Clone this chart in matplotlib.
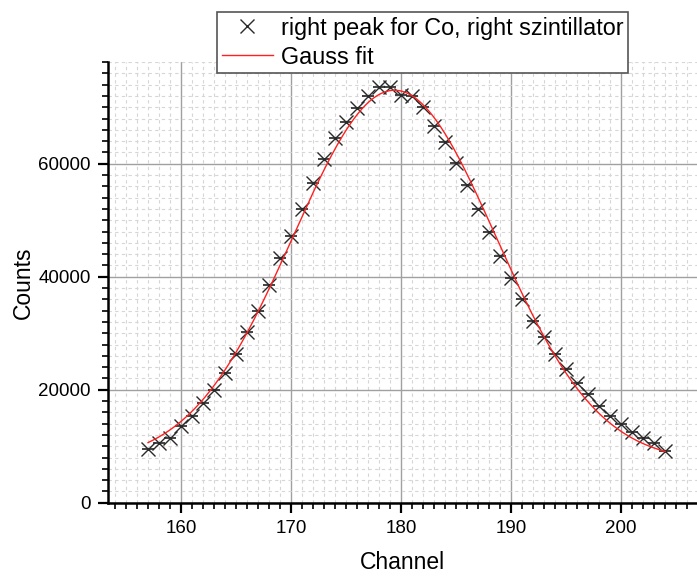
import numpy as np
import matplotlib
matplotlib.use("Agg")
import matplotlib.pyplot as plt
from matplotlib.ticker import MultipleLocator

plt.rcParams['font.family'] = ['Liberation Sans', 'DejaVu Sans']

channels = [157, 158, 159, 160, 161, 162, 163, 164, 165, 166, 167, 168, 169, 170,
            171, 172, 173, 174, 175, 176, 177, 178, 179, 180, 181, 182, 183, 184,
            185, 186, 187, 188, 189, 190, 191, 192, 193, 194, 195, 196, 197, 198,
            199, 200, 201, 202, 203, 204]
counts = [9500, 10500, 11500, 13500, 15400, 17600, 20000, 23000, 26400, 30300,
          34000, 38500, 43300, 47200, 51900, 56600, 60800, 64500, 67400, 69900,
          72000, 73500, 73500, 72200, 71900, 70000, 66700, 63900, 60200, 56300,
          51900, 47900, 43600, 39800, 36100, 32200, 29300, 26400, 23700, 21200,
          19200, 17200, 15400, 13900, 12500, 11500, 10500, 9200]

# Gauss fit parameters (y0 + A*exp(-(x-xc)^2/(2 w^2)))
fit_y0 = 7200
fit_A = 65800
fit_xc = 179.4
fit_w = 9.22

W, H = 697, 577
fig = plt.figure(figsize=(W / 100, H / 100), dpi=100)
ax = fig.add_axes([108 / W, 1 - 502.7 / H, 1 - 108 / W, (502.7 - 62) / H])

xf = np.linspace(channels[0], channels[-1], 400)
yf = fit_y0 + fit_A * np.exp(-(xf - fit_xc) ** 2 / (2 * fit_w ** 2))

ax.plot(channels, counts, linestyle='none', marker='_', markersize=9,
        markeredgewidth=1.2, color='#222222', zorder=3)
ax.plot(channels, counts, linestyle='none', marker='x', markersize=10.5,
        markeredgewidth=1.0, color='#2a2a2a', zorder=3,
        label='right peak for Co, right szintillator')
ax.plot(xf, yf, color='#ff2020', linewidth=1.0, zorder=4, label='Gauss fit')

ax.set_xlim(153.36, 206.9)
ax.set_ylim(0, 78000)

ax.xaxis.set_major_locator(MultipleLocator(10))
ax.xaxis.set_minor_locator(MultipleLocator(1))
ax.yaxis.set_major_locator(MultipleLocator(20000))
ax.yaxis.set_minor_locator(MultipleLocator(2000))

ax.grid(which='major', color='#a0a0a0', linewidth=1.0, linestyle='-', zorder=1)
ax.grid(which='minor', color='#d6d6d6', linewidth=0.8, linestyle=(0, (3, 3)), zorder=0)
ax.set_axisbelow(True)

for s in ['top', 'right']:
    ax.spines[s].set_visible(False)
for s in ['left', 'bottom']:
    ax.spines[s].set_linewidth(1.8)
    ax.spines[s].set_color('black')

ax.tick_params(which='major', direction='out', length=7, width=1.6,
               labelsize=13.5, pad=5.5, color='black')
ax.tick_params(which='minor', direction='out', length=4, width=1.2, color='black')

ax.set_xlabel('Channel', fontsize=16.5, labelpad=10)
ax.set_ylabel('Counts', fontsize=16.5, labelpad=2)

leg = fig.legend(loc='upper left', bbox_to_anchor=(217 / W, 1 - 12 / H),
                 fontsize=16.8, frameon=True, fancybox=False, framealpha=1,
                 edgecolor='#555555', borderaxespad=0, handlelength=2.2,
                 handletextpad=0.35, borderpad=0.2, labelspacing=0.25)
leg.get_frame().set_linewidth(1.2)

fig.savefig('out.png', dpi=100)
